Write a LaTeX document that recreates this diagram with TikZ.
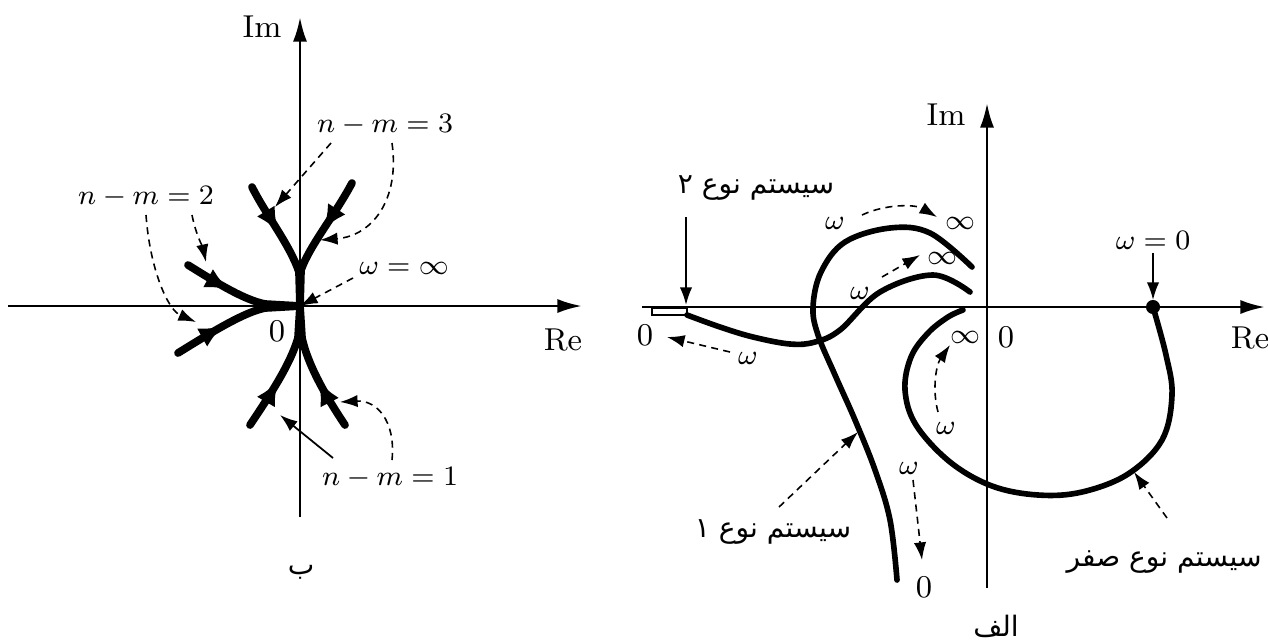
\documentclass[tikz,border=0pt]{standalone}
\usepackage{fontspec}
\usepackage{tikz}
\usetikzlibrary{arrows.meta,decorations.markings}
\newfontfamily\arabicfont[Script=Arabic]{DejaVu Sans}
\TeXXeTstate=1
\tikzset{
  axisline/.style={-{Latex[length=7pt,width=4pt]}, line width=0.8pt},
  branch/.style={
    line width=2.2pt, line cap=round, postaction={decorate},
    decoration={markings,
      mark=at position #1 with {\arrow{Latex[length=7pt,width=6pt]}}}
  },
  branch/.default=0.4,
  locus/.style={line width=1.6pt, line cap=round},
  hint/.style={
    -{Latex[length=5pt,width=3.5pt]}, dash pattern=on 2pt off 1.5pt,
    line width=0.45pt
  },
  pointer/.style={-{Latex[length=5pt,width=3.5pt]}, line width=0.5pt},
  lbl/.style={font=\small, inner sep=1pt},
  mlbl/.style={font=\footnotesize, inner sep=1pt},
  farsi/.style={font=\footnotesize\arabicfont, inner sep=1pt},
}

\begin{document}
\begin{tikzpicture}[x=0.01cm, y=-0.01cm]
  \useasboundingbox (0,0) rectangle (1268,642);

  % Left plot: approach to the origin
  \coordinate (oL) at (300,306);
  \draw[axisline] (8,306) -- (582,306);
  \draw[axisline] (300,517) -- (300,17);
  \node[lbl] (imL) at (262,27) {Im};
  \node[lbl] (reL) at (563,340) {Re};
  \node[lbl] (zeroL) at (277,331) {0};

  % n-m = 3
  \draw[branch] (252,187) .. controls (266,215) and (290,245) .. (299,272) -- (oL);
  \draw[branch] (352,183) .. controls (335,215) and (310,245) .. (301,270) -- (oL);
  % n-m = 2
  \draw[branch] (188,265) .. controls (220,285) and (245,300) .. (265,304) -- (oL);
  \draw[branch] (178,353) .. controls (215,330) and (245,312) .. (265,308) -- (oL);
  % n-m = 1
  \draw[branch] (250,425) .. controls (270,395) and (290,365) .. (298,338) -- (oL);
  \draw[branch] (345,425) .. controls (325,395) and (308,365) .. (302,338) -- (oL);

  \node[mlbl] (nm3) at (385,125) {$n-m=3$};
  \node[mlbl] (nm2) at (146,197) {$n-m=2$};
  \node[mlbl] (nm1) at (390,478) {$n-m=1$};
  \node[mlbl] (winf) at (404,268) {$\omega=\infty$};

  \coordinate (p3a) at (275,207);
  \coordinate (p3b) at (320,240);
  \coordinate (p2a) at (206,262);
  \coordinate (p2b) at (196,322);
  \coordinate (p1a) at (280,415);
  \coordinate (p1b) at (340,402);
  \draw[hint] (331,143) -- (p3a);
  \draw[hint] (392,143) .. controls (400,200) and (372,236) .. (p3b);
  \draw[hint] (192,215) .. controls (196,235) and (203,248) .. (p2a);
  \draw[hint] (146,215) .. controls (150,270) and (168,310) .. (p2b);
  \draw[hint] (353,278) -- (oL);
  \draw[pointer] (333,458) -- (p1a);
  \draw[hint] (392,460) .. controls (396,420) and (376,400) .. (p1b);

  \node[farsi] (capB) at (301,572) {\beginR ب\endR};

  % Right plot: polar plots by system type
  \coordinate (oR) at (987,307);
  \draw[axisline] (642,307) -- (1265,307);
  \draw[axisline] (987,588) -- (987,103);
  \node[lbl] (imR) at (946,115) {Im};
  \node[lbl] (reR) at (1250,338) {Re};
  \node[lbl] (zeroR) at (1006,337) {0};
  \node[mlbl] (infR) at (965,337) {$\infty$};

  % type 0
  \coordinate (w0) at (1153,307);
  \fill (w0) circle[radius=2pt];
  \draw[locus] plot[smooth, tension=0.6] coordinates {(1153,307) (1166,355)
    (1172,395) (1162,440) (1128,474) (1082,492) (1038,495) (992,486)
    (950,462) (916,425) (905,390) (911,357) (928,333) (948,317) (963,310)};
  \node[mlbl] (lw0) at (1153,240) {$\omega=0$};
  \draw[pointer] (1153,253) -- (1153,300);
  \node[mlbl] (wt0) at (946,428) {$\omega$};
  \draw[hint] (938,412) .. controls (932,390) and (936,365) .. (950,345);
  \node[farsi] (type0) at (1164,562) {\beginR سیستم نوع صفر\endR};
  \coordinate (c0) at (1134,472);
  \draw[hint] (1167,518) -- (c0);

  % type 1
  \draw[locus] plot[smooth, tension=0.6] coordinates {(897,580) (890,520)
    (875,470) (855,420) (835,375) (818,335) (813,307) (821,272) (845,242)
    (890,228) (930,233) (972,267)};
  \node[mlbl] (wt1a) at (835,223) {$\omega$};
  \node[mlbl] (it1) at (960,223) {$\infty$};
  \draw[hint] (862,215) .. controls (885,204) and (915,204) .. (937,217);
  \node[mlbl] (wt1b) at (909,468) {$\omega$};
  \node[lbl] (zt1) at (924,587) {0};
  \draw[hint] (913,480) -- (922,560);
  \node[farsi] (type1) at (773,532) {\beginR سیستم نوع ۱\endR};
  \coordinate (c1) at (858,432);
  \draw[hint] (779,507) -- (c1);

  % type 2
  \draw[line width=0.8pt] (652,308) rectangle (687,315);
  \draw[locus] plot[smooth, tension=0.6] coordinates {(687,315) (720,327)
    (753,337) (790,344) (815,342) (840,330) (880,292) (933,275) (970,292)};
  \node[mlbl] (wt2a) at (860,293) {$\omega$};
  \node[mlbl] (it2) at (942,258) {$\infty$};
  \draw[hint] (882,277) -- (920,255);
  \node[lbl] (zt2) at (645,335) {0};
  \node[mlbl] (wt2b) at (748,358) {$\omega$};
  \draw[hint] (730,352) -- (667,337);
  \node[farsi] (type2) at (756,188) {\beginR سیستم نوع ۲\endR};
  \coordinate (c2) at (686,305);
  \draw[pointer] (686,217) -- (c2);

  \node[farsi] (capA) at (996,626) {\beginR الف\endR};
\end{tikzpicture}
\end{document}
